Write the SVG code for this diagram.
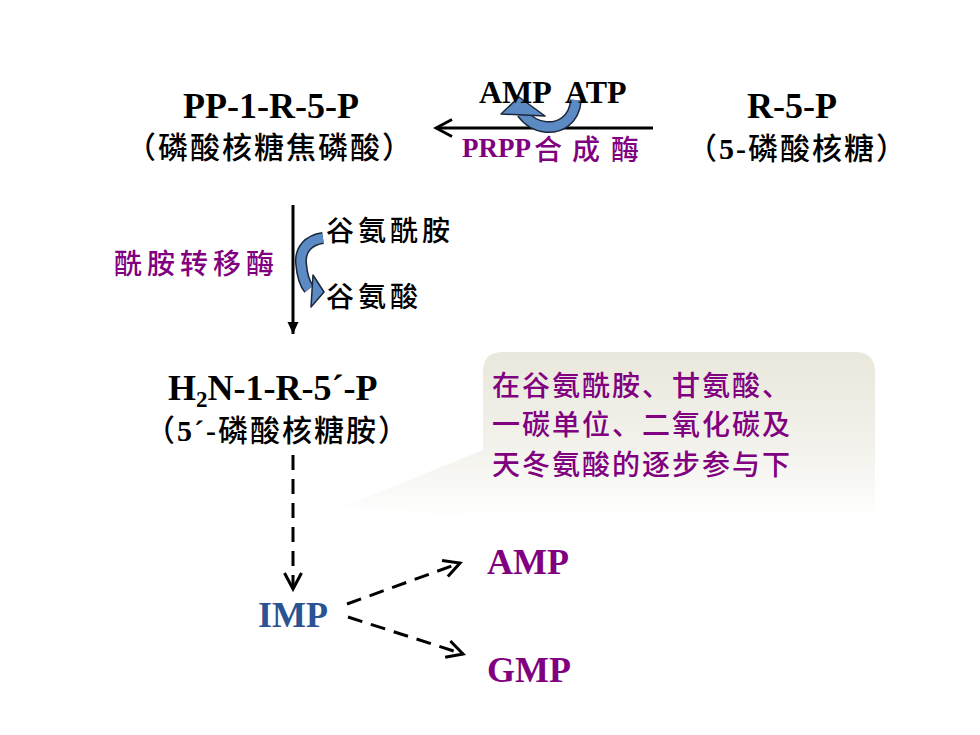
<svg xmlns="http://www.w3.org/2000/svg" width="980" height="735" viewBox="0 0 980 735">
<style>
.lat{font-family:"Liberation Serif","Noto Sans CJK SC",serif;font-weight:bold;font-size:36px;fill:#000}
.cjk{font-family:"Noto Sans CJK SC","Noto Sans CJK JP",sans-serif;font-weight:500}
.sub{font-size:30px;letter-spacing:2px}
.pur{fill:#800080}
.blu{fill:#2A5394}
.conn{fill:none;stroke:#000;stroke-width:3}
.dash{stroke-dasharray:15 9}
.band-o{fill:none;stroke:#1c2838;stroke-width:12}
.band-i{fill:none;stroke:#5B8AC4;stroke-width:9}
.head{fill:#5B8AC4;stroke:#1c2838;stroke-width:1.5;stroke-linejoin:round}
</style>
<defs>
<marker id="chev" markerUnits="userSpaceOnUse" viewBox="-20 -11 23 22" refX="0" refY="0" markerWidth="23" markerHeight="22" orient="auto">
<path d="M-16,-8.5 L0,0 L-16,8.5" fill="none" stroke="#000" stroke-width="3" stroke-dasharray="none"/>
</marker>
<marker id="tri" markerUnits="userSpaceOnUse" viewBox="-14 -7 16 14" refX="0" refY="0" markerWidth="16" markerHeight="14" orient="auto">
<path d="M-12,-5.5 L0,0 L-12,5.5 Z" fill="#000"/>
</marker>
<linearGradient id="cg" gradientUnits="userSpaceOnUse" x1="0" y1="352" x2="0" y2="520">
<stop offset="0" stop-color="#EAE8DC"/>
<stop offset="0.55" stop-color="#F2F1EB"/>
<stop offset="1" stop-color="#FFFFFF"/>
</linearGradient>
</defs>
<rect width="980" height="735" fill="#fff"/>

<g id="callout">
<path d="M503,352 H855 Q875,352 875,372 V520 H483 L345,506 L483,450 V372 Q483,352 503,352 Z" fill="url(#cg)"/>
<text class="cjk pur" font-size="28" letter-spacing="2"><tspan x="492" y="396">在谷氨酰胺、甘氨酸、</tspan><tspan x="492" y="435">一碳单位、二氧化碳及</tspan><tspan x="492" y="475">天冬氨酸的逐步参与下</tspan></text>
</g>

<g id="connectors">
<line class="conn" x1="653" y1="128" x2="436" y2="128" marker-end="url(#chev)"/>
<line class="conn" x1="293" y1="205" x2="293" y2="334" marker-end="url(#tri)"/>
<line class="conn dash" x1="293" y1="455" x2="293" y2="589" marker-end="url(#chev)"/>
<line class="conn dash" x1="347" y1="604" x2="460" y2="563" marker-end="url(#chev)"/>
<line class="conn dash" x1="348" y1="617" x2="463" y2="654" marker-end="url(#chev)"/>
<g id="atp-amp-arrow">
<path class="band-o" d="M576,100 C574,122 558,128 546,127 C536,126 528,121 522,113"/>
<path class="band-i" d="M576,100 C574,122 558,128 546,127 C536,126 528,121 522,113"/>
<polygon class="head" points="501,114 519,97 545,116"/>
</g>
<g id="gln-glu-arrow">
<path class="band-o" d="M323,238 C308,240 300,250 301,263 C302,275 304,283 309,289"/>
<path class="band-i" d="M323,238 C308,240 300,250 301,263 C302,275 304,283 309,289"/>
<polygon class="head" points="313,275 324,292 311,307"/>
</g>
</g>

<g id="node-pp1r5p">
<text class="lat" x="271" y="118" text-anchor="middle">PP-1-R-5-P</text>
<text class="cjk sub" x="126" y="158">（磷酸核糖焦磷酸）</text>
</g>

<g id="node-r5p">
<text class="lat" x="792" y="118" text-anchor="middle">R-5-P</text>
<text class="cjk sub" x="687" y="159">（<tspan class="lat" style="font-size:30px">5-</tspan>磷酸核糖）</text>
</g>

<g id="label-amp-atp">
<text class="lat" style="font-size:32px" x="479" y="103">AMP</text>
<text class="lat" style="font-size:32px" x="565" y="103">ATP</text>
</g>

<g id="label-prpp-synthase">
<text class="lat pur" style="font-size:27px" x="462" y="157">PRPP</text>
<text class="cjk pur" font-size="28" y="160"><tspan x="534">合</tspan><tspan x="572">成</tspan><tspan x="611">酶</tspan></text>
</g>

<g id="label-amidotransferase">
<text class="cjk pur" font-size="28" letter-spacing="5" x="114" y="274">酰胺转移酶</text>
</g>

<g id="label-gln-glu">
<text class="cjk" font-size="28" letter-spacing="4" x="326" y="241">谷氨酰胺</text>
<text class="cjk" font-size="28" letter-spacing="4" x="326" y="307">谷氨酸</text>
</g>

<g id="node-h2n">
<text class="lat" x="168" y="400">H<tspan style="font-size:23px" dy="7">2</tspan><tspan dy="-7">N-1-R-5´-P</tspan></text>
<text class="cjk sub" x="145" y="441">（<tspan class="lat" style="font-size:30px">5´-</tspan>磷酸核糖胺）</text>
</g>

<g id="node-imp">
<text class="lat blu" x="258" y="627">IMP</text>
</g>
<g id="node-amp">
<text class="lat pur" x="487" y="574">AMP</text>
</g>
<g id="node-gmp">
<text class="lat pur" x="487" y="682">GMP</text>
</g>
</svg>
